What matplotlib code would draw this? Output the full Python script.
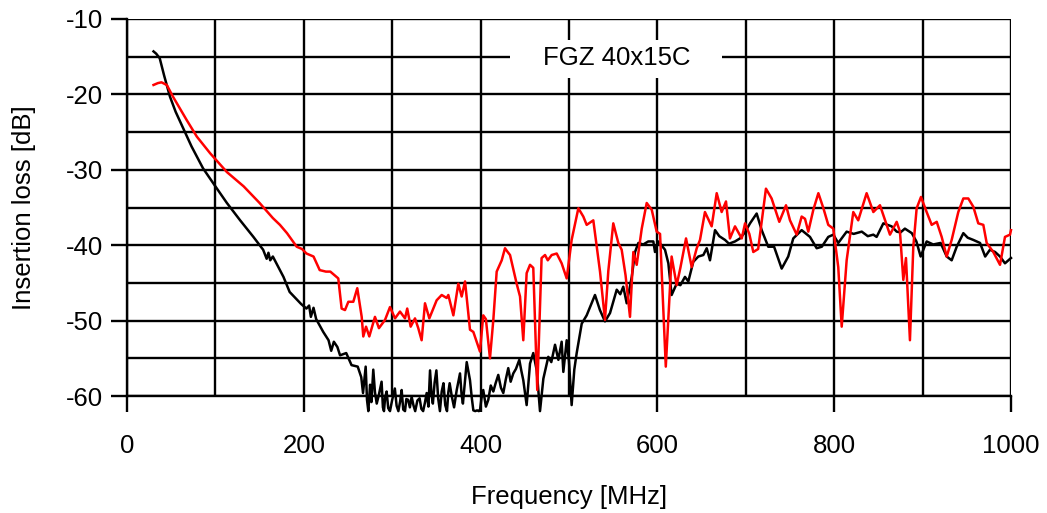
import numpy as np
import matplotlib.pyplot as plt
from matplotlib.patches import Rectangle

plt.rcParams['font.family'] = ['Liberation Sans', 'DejaVu Sans']
plt.rcParams['axes.unicode_minus'] = False

# black trace
freq_black = [30, 33, 37, 42, 48.6, 55, 62, 73, 86, 100, 113, 128, 143, 154, 158, 160, 162, 165,
              177, 184, 197, 203, 206, 208, 211, 214, 222, 228, 231, 234, 238, 241, 248, 254, 261,
              265, 267, 268.5, 270, 271.5, 273, 275, 276.5, 278.6, 280.5, 282.5, 285, 288, 289.5,
              290.7, 292, 293.7, 295.5, 297.5, 300, 303, 305, 307, 309, 310.7, 312.5, 314.5, 316,
              318, 320, 322, 324, 326, 328.5, 331, 333, 335, 337, 339, 341, 342.8, 344.5, 346,
              348, 350, 352, 354, 356, 358, 360, 362, 363.5, 365, 367.5, 370, 373, 376.7, 378.5,
              380, 382, 384.3, 386, 388, 390, 391.8, 394, 396, 398, 399.3, 401, 403, 406, 408.7,
              411.5, 414.4, 417, 420, 423, 425.7, 428.5, 431.3, 434, 437, 440, 443.8, 446, 448.3,
              452.1, 455.9, 459.6, 463.5, 467.2, 471, 476.6, 480, 484.2, 488, 491.7, 493.6,
              497.4, 500, 503, 506, 508.7, 514.4, 520, 529.4, 535, 540.7, 546.4, 554, 558, 561.4,
              565.3, 571, 574.7, 578.5, 584, 589.7, 595.4, 597.3, 601, 608.6, 612.4, 616.1, 621.8,
              626, 631.2, 635, 640.6, 646.3, 652, 655.8, 659.5, 665.2, 670, 676.5, 681, 687.8,
              693.4, 699, 704.8, 712.3, 718, 725.4, 732, 740.6, 748, 753.7, 763.2, 772.6, 780.2,
              786, 793.3, 799, 804.6, 814.1, 822, 831.2, 838, 844.3, 848, 855.6, 865, 870.7, 875,
              880, 887.8, 893, 897.8, 904.6, 912, 920.4, 927.3, 932.9, 938.6, 946.1, 951, 957.4,
              965, 970.8, 976.2, 982, 987.6, 993.2, 1000]
loss_black = [-14.3, -14.6, -15.2, -17.5, -20.3, -22.3, -24.1, -26.9, -29.8, -32.2, -34.4, -36.7,
              -38.9, -40.6, -41.8, -41.0, -42.0, -41.5, -44.2, -46.2, -47.8, -48.4, -48.0, -49.5,
              -48.3, -49.8, -51.5, -52.6, -54.0, -52.8, -53.5, -54.6, -54.3, -55.9, -56.1, -57.5,
              -59.6, -57.8, -56.1, -60.5, -62, -58.5, -60.8, -56.5, -59.5, -61, -59.8, -58.1, -61.5,
              -62, -60.2, -59.4, -61.6, -62, -60.5, -59, -61.3, -62, -60.7, -59.2, -61.8, -62,
              -60.4, -60.5, -61.5, -60.1, -61.2, -62, -60.6, -60.3, -61.7, -62, -60.9, -59.6,
              -61.4, -56.6, -59.8, -61, -58.2, -56.6, -60.3, -62, -59.4, -58.3, -61.2, -62, -59.5,
              -58.3, -60.1, -61.5, -59.2, -57, -59.8, -61, -58.4, -55.5, -56.6, -57.9, -60.2,
              -61.9, -62, -61.9, -62, -61.9, -60.3, -59.2, -61.4, -60.5, -58.6, -59.4, -58.3,
              -57.2, -58.9, -59.6, -57.8, -56.3, -58.1, -57, -56.4, -55.2, -56.6, -57.9, -61.2,
              -55.7, -54.3, -56.6, -62, -57.7, -54.8, -55.5, -53.2, -55.2, -52.8, -56.8, -52.6,
              -55.4, -61.2, -56.5, -54.3, -50.4, -49.3, -46.6, -48.6, -50.1, -49, -45.9, -46.5,
              -45.5, -47.7, -44.2, -40.9, -39.7, -39.9, -39.5, -39.5, -40.9, -39.5, -40.6, -42.4,
              -46.6, -45.1, -45.3, -44.2, -44.8, -42.2, -41.5, -41.3, -40.4, -42, -38, -38.8,
              -39.3, -39.8, -39.5, -39.1, -38.3, -37.1, -35.8, -38, -40.2, -40.2, -43.1, -41.5,
              -39.1, -38, -38.9, -40.4, -40.2, -38.9, -38.6, -39.7, -38.2, -38.5, -38.2, -38.8,
              -38.6, -38.9, -37.1, -37.5, -38.2, -38.3, -37.8, -38.4, -39.5, -41.5, -39.5, -39.9,
              -39.7, -41.5, -42, -40.2, -38.4, -39.0, -39.3, -39.7, -41.5, -40.6, -40.9, -41.5,
              -42.4, -41.7]

# red trace
freq_red = [30, 35, 39, 45, 52, 60, 67.5, 79, 94, 113, 132, 150, 165, 173, 181, 192, 198, 203,
            211, 218, 225, 230, 235, 239, 242.8, 246.6, 250.4, 256, 260.5, 265.5, 267.3, 270.4,
            274.1, 280.5, 285, 291.9, 297.5, 303.2, 308.8, 314.5, 317, 320.9, 325.8, 329.5, 333.3,
            337.1, 342, 350.3, 356, 361.6, 363.5, 369.2, 374.8, 378.6, 382.4, 388, 391.8, 399.3,
            403, 406, 410.6, 414.4, 418.2, 423.9, 427.6, 430, 433.3, 440.8, 444.6, 448.3, 452.1,
            455.9, 459.6, 464.1, 469, 472.9, 476, 480.4, 486.1, 491.7, 497.4, 503, 510.6, 516.2,
            520, 527.5, 535.1, 540.7, 544.5, 550.1, 555.8, 559.6, 564, 569, 572.8, 576.6, 582.3,
            587.9, 593.6, 599.2, 603, 609.5, 616.1, 621.8, 626, 632.4, 638.8, 644.5, 648.2, 653.8,
            661.4, 667.1, 672.7, 677.6, 682.1, 687.8, 695.4, 699.2, 704, 708.5, 714, 722.8, 729.2,
            737.9, 745.5, 750, 757.6, 763.2, 767, 770.7, 776.4, 782.1, 787.8, 793.3, 799, 804.6,
            808.5, 814.1, 821.6, 827.2, 836.7, 844.3, 851.8, 859.4, 863.1, 870.7, 874.4, 878.2,
            881.2, 885.7, 889.5, 893.3, 898.2, 904.6, 910.3, 916, 921.6, 927.3, 932.9, 940.4,
            946.1, 951.7, 957.4, 963, 968.7, 972.5, 980, 987.6, 993.2, 998.9, 1000]
loss_red = [-18.75, -18.5, -18.4, -18.75, -20.3, -21.9, -23.4, -25.6, -27.8, -30.3, -32.2, -34.4,
            -36.4, -37.3, -38.4, -40.2, -40.5, -41.1, -41.5, -43.3, -43.5, -43.5, -44.0, -44.4,
            -48.4, -48.6, -47.5, -47.5, -45.7, -49.5, -52.1, -50.8, -52.1, -49.5, -51, -49.9,
            -48.2, -49.7, -48.8, -49.7, -48.4, -50.8, -49.7, -51, -52.6, -47.7, -49.7, -47.3,
            -46.6, -47, -46.6, -49.3, -45.1, -46.8, -44.8, -51.2, -51.5, -54.1, -49.3, -49.8, -55,
            -49.9, -43.5, -42, -40.4, -40.8, -41.3, -45.1, -46.8, -52.6, -43.7, -42.6, -43, -59.2,
            -41.7, -41.3, -42, -41.3, -41.1, -42.4, -44.4, -39.3, -35.1, -36.2, -37.3, -36.7,
            -43.5, -49.9, -43.4, -37.1, -39.7, -40.6, -44, -49.5, -40.9, -42.6, -37.8, -34.4,
            -35.3, -38.2, -38.5, -56.1, -41.5, -45.3, -43, -39.1, -42.9, -40.4, -39.3, -35.6,
            -37.5, -33.1, -35.6, -34.2, -39.1, -37.5, -39.1, -37.1, -38.5, -40.9, -40.5, -32.5,
            -33.8, -36.9, -34.7, -36.7, -38.6, -36.2, -36.5, -38.2, -35.3, -33.1, -35.1, -37.3,
            -37.8, -42.9, -50.8, -42, -35.6, -36.7, -33.1, -35.6, -34.7, -37.3, -38.6, -36.9,
            -38.2, -44.6, -41.7, -52.6, -40.2, -35.1, -33.6, -35.6, -37.3, -36.9, -38.9, -41.5,
            -39.3, -35.6, -33.8, -33.8, -34.9, -37.1, -37.3, -39.7, -40.9, -42.6, -38.9, -38.6,
            -38.0]

x_ticks = [0, 200, 400, 600, 800, 1000]
y_ticks = [-60, -50, -40, -30, -20, -10]
title_text = "FGZ 40x15C"

fig = plt.figure(figsize=(10.47, 5.13), dpi=100)
ax = fig.add_axes([0.1213, 0.228, 0.8443, 0.735])

ax.set_xlim(0, 1000)
ax.set_ylim(-60, -10)
ax.set_xticks(x_ticks)
ax.set_yticks(y_ticks)
ax.set_xticks(np.arange(100, 1000, 200), minor=True)
ax.set_yticks(np.arange(-55, -10, 10), minor=True)
ax.grid(True, which='both', color='black', linewidth=1.7, zorder=0)
ax.set_axisbelow(True)

ax.tick_params(which='major', direction='out', length=11.5, width=1.7, labelsize=18.5,
               color='black', pad=16)
ax.tick_params(axis='y', which='major', pad=6)
ax.tick_params(which='minor', length=0)
for side in ['left', 'bottom', 'right', 'top']:
    ax.spines[side].set_linewidth(1.7)
ax.spines['top'].set_visible(False)
ax.spines['right'].set_visible(False)

ax.plot(freq_black, loss_black, color='black', linewidth=1.8, clip_on=False, zorder=3)
ax.plot(freq_red, loss_red, color='red', linewidth=1.8, clip_on=False, zorder=4)

ax.add_patch(Rectangle((433, -17.8), 240, 5.0, facecolor='white', edgecolor='none', zorder=2))
ax.text(553.5, -15.2, title_text, ha='center', va='center', fontsize=18.5, zorder=5)

ax.set_xlabel("Frequency [MHz]", fontsize=18.5, labelpad=19)
ax.set_ylabel("Insertion loss [dB]", fontsize=18.5, labelpad=21)

fig.savefig("out.png", dpi=100)
